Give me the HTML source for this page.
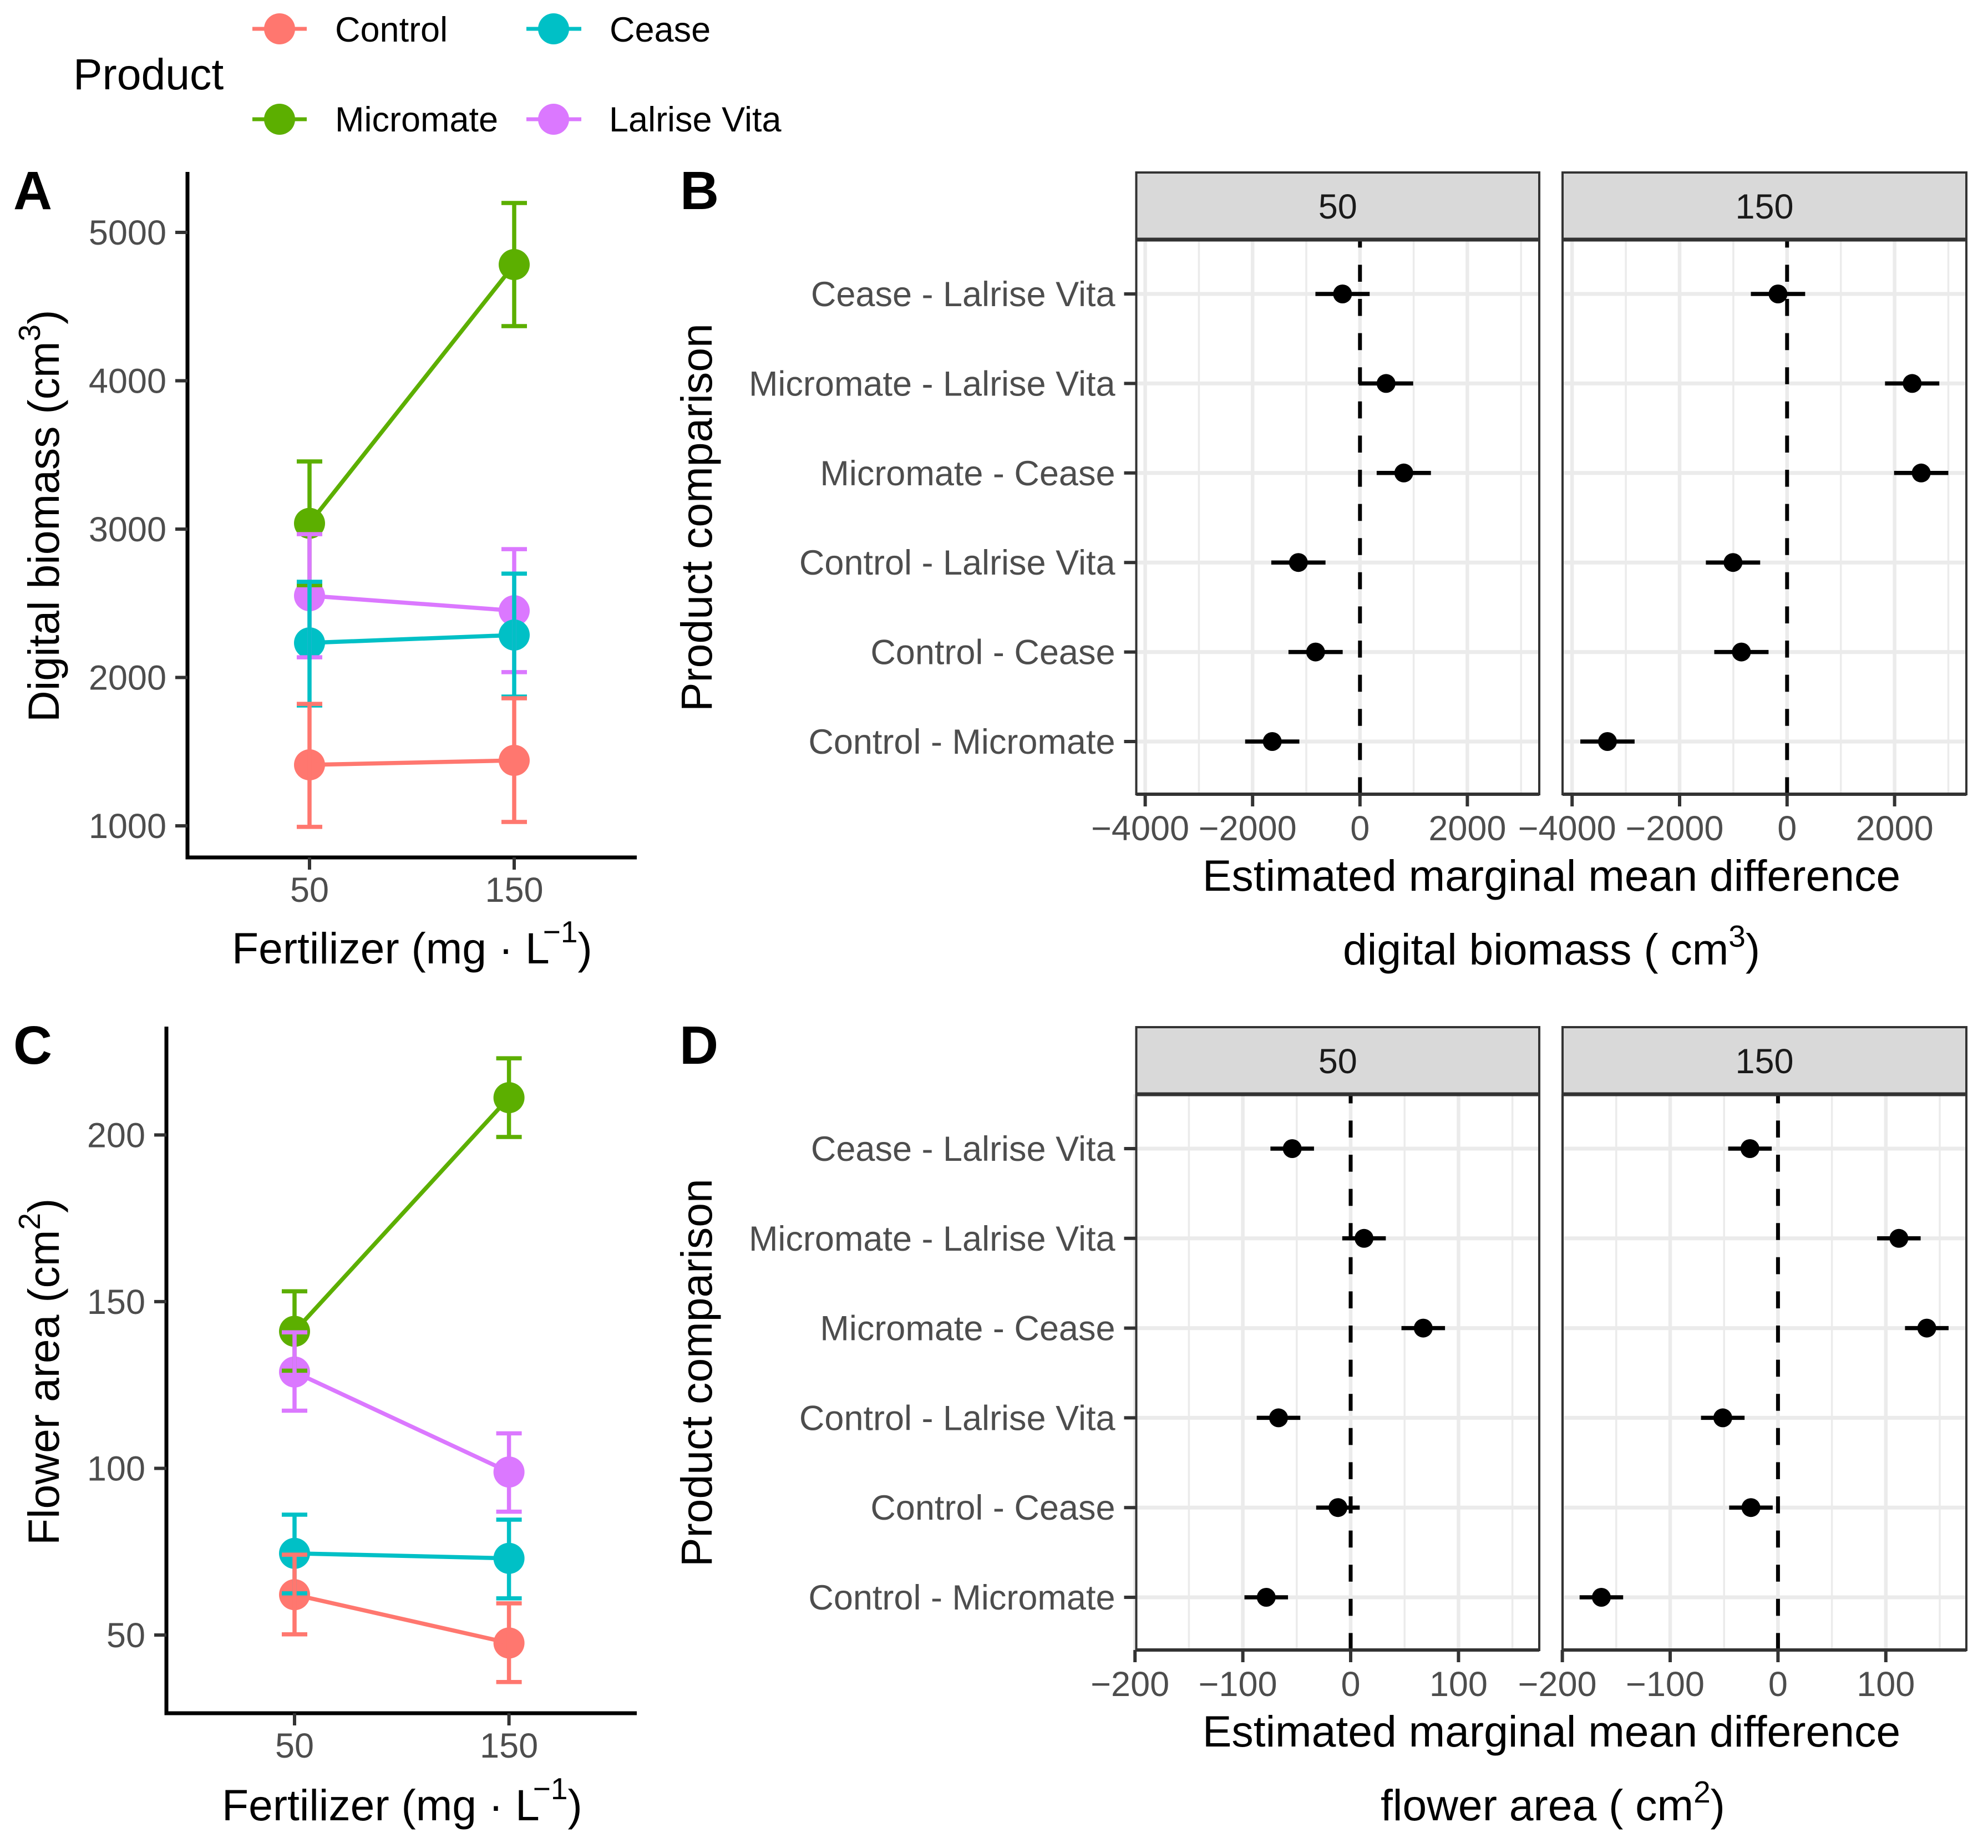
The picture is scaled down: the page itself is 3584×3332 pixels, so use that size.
<!DOCTYPE html>
<html lang="en">
<head>
<meta charset="utf-8">
<title>Digital biomass and flower area by product and fertilizer</title>
<style>
html,body{margin:0;padding:0;background:#fff;}
svg{display:block;font-family:"Liberation Sans",sans-serif;}
.title{font-size:78.7px;fill:#000;}
.lg{font-size:63px;fill:#000;}
.tag{font-size:97px;font-weight:bold;fill:#000;}
</style>
</head>
<body>
<svg id="figure" xmlns="http://www.w3.org/2000/svg" width="3584" height="3332" viewBox="0 0 3584 3332">
  <rect width="3584" height="3332" fill="#ffffff"/>

  <g>
    <text class="title" x="132" y="161">Product</text>
    <g>
      <line x1="455" x2="553" y1="52" y2="52" stroke="#FF776F" stroke-width="7"/>
      <circle cx="504" cy="52" r="28" fill="#FF776F"/>
      <text class="lg" x="604" y="75">Control</text>
    </g>
    <g>
      <line x1="949" x2="1048" y1="52" y2="52" stroke="#00C0C6" stroke-width="7"/>
      <circle cx="998" cy="52" r="28" fill="#00C0C6"/>
      <text class="lg" x="1099" y="75">Cease</text>
    </g>
    <g>
      <line x1="455" x2="553" y1="215" y2="215" stroke="#5CAF00" stroke-width="7"/>
      <circle cx="504" cy="215" r="28" fill="#5CAF00"/>
      <text class="lg" x="604" y="237">Micromate</text>
    </g>
    <g>
      <line x1="949" x2="1048" y1="215" y2="215" stroke="#DB78FF" stroke-width="7"/>
      <circle cx="998" cy="215" r="28" fill="#DB78FF"/>
      <text class="lg" x="1098" y="237">Lalrise Vita</text>
    </g>
  </g>

  <text class="tag" x="24" y="377">A</text>
  <text class="tag" x="1226" y="377">B</text>
  <text class="tag" x="24" y="1918">C</text>
  <text class="tag" x="1225" y="1918">D</text>

  <text class="title" transform="translate(106,1302) rotate(-90)">Digital biomass (cm<tspan dy="-34" font-size="55">3</tspan><tspan dy="34">)</tspan></text>
  <text class="title" transform="translate(106,2786) rotate(-90)">Flower area (cm<tspan dy="-34" font-size="55">2</tspan><tspan dy="34">)</tspan></text>
  <text class="title" x="418" y="1737">Fertilizer (mg · L<tspan dy="-38" dx="-12" font-size="55">−1</tspan><tspan dy="38">)</tspan></text>
  <text class="title" x="400" y="3282">Fertilizer (mg · L<tspan dy="-38" dx="-12" font-size="55">−1</tspan><tspan dy="38">)</tspan></text>

  <text class="title" transform="translate(1283,1283) rotate(-90)">Product comparison</text>
  <text class="title" transform="translate(1283,2825) rotate(-90)">Product comparison</text>

  <text class="title" x="2797" y="1606" text-anchor="middle">Estimated marginal mean difference</text>
  <text class="title" x="2421" y="1739">digital biomass ( cm<tspan dy="-32" font-size="55">3</tspan><tspan dy="32">)</tspan></text>
  <text class="title" x="2797" y="3149" text-anchor="middle">Estimated marginal mean difference</text>
  <text class="title" x="2489" y="3282">flower area ( cm<tspan dy="-32" font-size="55">2</tspan><tspan dy="32">)</tspan></text>

  <g id="charts"></g>
</svg>

<script>
// ---------- Panel data: interaction plots ----------
const doses = [50, 150];
const biomassTicks = [1000, 2000, 3000, 4000, 5000];
const flowerTicks = [50, 100, 150, 200];

const biomassMicromate = [3039, 4783];
const biomassMicromateLow = [2622, 4368];
const biomassMicromateHigh = [3456, 5198];
const biomassLalrise = [2551, 2450];
const biomassLalriseLow = [2136, 2036];
const biomassLalriseHigh = [2966, 2865];
const biomassCease = [2233, 2286];
const biomassCeaseLow = [1811, 1871];
const biomassCeaseHigh = [2645, 2700];
const biomassControl = [1411, 1441];
const biomassControlLow = [993, 1026];
const biomassControlHigh = [1822, 1860];

const flowerMicromate = [141.1, 211.2];
const flowerMicromateLow = [129.3, 199.4];
const flowerMicromateHigh = [153.1, 223];
const flowerLalrise = [128.9, 98.9];
const flowerLalriseLow = [117.3, 87];
const flowerLalriseHigh = [140.8, 110.5];
const flowerCease = [74.5, 73];
const flowerCeaseLow = [62.5, 61];
const flowerCeaseHigh = [86.1, 84.6];
const flowerControl = [62.1, 47.6];
const flowerControlLow = [50.2, 35.9];
const flowerControlHigh = [74.1, 59.5];

// ---------- Panel data: pairwise comparison plots ----------
const comparisons = ["Cease - Lalrise Vita", "Micromate - Lalrise Vita", "Micromate - Cease", "Control - Lalrise Vita", "Control - Cease", "Control - Micromate"];
const biomassDiffTicks = [-4000, -2000, 0, 2000];
const biomassDiffMinor = [-3000, -1000, 1000, 3000];
const flowerDiffTicks = [-200, -100, 0, 100];
const flowerDiffMinor = [-150, -50, 50, 150];

const biomassDiff50 = [-325, 486, 816, -1147, -827, -1634];
const biomassMargin50 = [505, 505, 505, 505, 505, 505];
const biomassDiff150 = [-169, 2327, 2495, -1006, -850, -3342];
const biomassMargin150 = [505, 505, 505, 505, 505, 505];
const flowerDiff50 = [-54.2, 12.4, 67.3, -66.9, -11.8, -78.3];
const flowerMargin50 = [20.2, 20.2, 20.2, 20.2, 20.2, 20.2];
const flowerDiff150 = [-26, 112.1, 138, -51.2, -25.1, -163.8];
const flowerMargin150 = [20.2, 20.2, 20.2, 20.2, 20.2, 20.2];

// ---------- Helpers ----------
const NS = "http://www.w3.org/2000/svg";
const root = document.getElementById("charts");

function linear(d0, r0, d1, r1) {
  return function (v) { return r0 + (v - d0) * (r1 - r0) / (d1 - d0); };
}
function make(parent, tag, props, text) {
  const node = document.createElementNS(NS, tag);
  for (const k in props) node.setAttribute(k, props[k]);
  if (text !== undefined) node.textContent = text;
  parent.appendChild(node);
  return node;
}
function fmt(v) { return v < 0 ? "\u2212" + Math.abs(v) : String(v); }
function slug(s) { return String(s).toLowerCase().replace(/[^a-z0-9]+/g, "-"); }

// ---------- Interaction plot ----------
function drawInteraction(cfg) {
  const g = make(root, "g", {});
  
  

  // Points, then lines, then error bars, each in the original layer order
  cfg.series.forEach(function (s) {
    s.mean.forEach(function (v, i) {
      const c = make(g, "circle", { cx: cfg.x(doses[i]), cy: cfg.y(v), r: 28, fill: s.color });
      
      
    });
  });
  cfg.series.forEach(function (s) {
    const pts = s.mean.map(function (v, i) { return cfg.x(doses[i]) + "," + cfg.y(v); }).join(" ");
    const l = make(g, "polyline", { points: pts, fill: "none", stroke: s.color, "stroke-width": 7.5 });
    
    
  });
  cfg.series.forEach(function (s) {
    s.mean.forEach(function (v, i) {
      const px = cfg.x(doses[i]);
      const hi = cfg.y(s.high[i]);
      const lo = cfg.y(s.low[i]);
      const d = "M" + (px - 23) + " " + hi + "H" + (px + 23) + "M" + px + " " + hi + "V" + lo + "M" + (px - 23) + " " + lo + "H" + (px + 23);
      const e = make(g, "path", { d: d, fill: "none", stroke: s.color, "stroke-width": 7.5 });
      
      
    });
  });

  // Axes
  const yAxis = make(g, "line", { x1: cfg.left, x2: cfg.left, y1: cfg.top, y2: cfg.bottom + 3.5, stroke: "#000", "stroke-width": 7 });
  
  
  const xAxis = make(g, "line", { x1: cfg.left - 3.5, x2: cfg.right, y1: cfg.bottom, y2: cfg.bottom, stroke: "#000", "stroke-width": 7 });
  
  

  cfg.yTicks.forEach(function (t) {
    const py = cfg.y(t);
    const tick = make(g, "line", { x1: cfg.left - 22, x2: cfg.left, y1: py, y2: py, stroke: "#333", "stroke-width": 6 });
    
    
    const lab = make(g, "text", { x: cfg.left - 38, y: py + 22, "text-anchor": "end", "font-size": 63, fill: "#4d4d4d" }, fmt(t));
    
    
  });
  doses.forEach(function (t) {
    const px = cfg.x(t);
    const tick = make(g, "line", { x1: px, x2: px, y1: cfg.bottom, y2: cfg.bottom + 22, stroke: "#333", "stroke-width": 6 });
    
    
    const lab = make(g, "text", { x: px, y: cfg.bottom + 80, "text-anchor": "middle", "font-size": 63, fill: "#4d4d4d" }, String(t));
    
    
  });
}

// ---------- Pairwise comparison facet ----------
function drawFacet(cfg) {
  const g = make(root, "g", {});
  
  

  const panel = make(g, "rect", { x: cfg.left, y: cfg.top, width: cfg.right - cfg.left, height: cfg.bottom - cfg.top, fill: "#fff" });
  
  

  cfg.minor.forEach(function (t) {
    const px = cfg.x(t);
    const grid = make(g, "line", { x1: px, x2: px, y1: cfg.top, y2: cfg.bottom, stroke: "#ebebeb", "stroke-width": 3.5 });
    
    
  });
  cfg.ticks.forEach(function (t) {
    const px = cfg.x(t);
    const grid = make(g, "line", { x1: px, x2: px, y1: cfg.top, y2: cfg.bottom, stroke: "#ebebeb", "stroke-width": 6.5 });
    
    
  });
  comparisons.forEach(function (name, i) {
    const py = cfg.y(i);
    const grid = make(g, "line", { x1: cfg.left, x2: cfg.right, y1: py, y2: py, stroke: "#ebebeb", "stroke-width": 7 });
    
    
  });

  const zero = make(g, "line", { x1: cfg.x(0), x2: cfg.x(0), y1: cfg.bottom, y2: cfg.top, stroke: "#000", "stroke-width": 7, "stroke-dasharray": "30.6 31" });
  
  

  comparisons.forEach(function (name, i) {
    const py = cfg.y(i);
    const seg = make(g, "line", { x1: cfg.x(cfg.values[i] - cfg.margins[i]), x2: cfg.x(cfg.values[i] + cfg.margins[i]), y1: py, y2: py, stroke: "#000", "stroke-width": 7.5 });
    
    
    const dot = make(g, "circle", { cx: cfg.x(cfg.values[i]), cy: py, r: 17, fill: "#000" });
    
    
  });

  const border = make(g, "rect", { x: cfg.left, y: cfg.top, width: cfg.right - cfg.left, height: cfg.bottom - cfg.top, fill: "none", stroke: "#333", "stroke-width": 4 });
  
  
  const base = make(g, "line", { x1: cfg.left, x2: cfg.right, y1: cfg.bottom, y2: cfg.bottom, stroke: "#333", "stroke-width": 6 });
  
  

  const strip = make(g, "rect", { x: cfg.left, y: cfg.top - 121, width: cfg.right - cfg.left, height: 121, fill: "#d9d9d9", stroke: "#333", "stroke-width": 4 });
  
  
  const stripEdge = make(g, "line", { x1: cfg.left, x2: cfg.right, y1: cfg.top, y2: cfg.top, stroke: "#333", "stroke-width": 7 });
  
  
  const stripText = make(g, "text", { x: (cfg.left + cfg.right) / 2, y: cfg.top - 38, "text-anchor": "middle", "font-size": 63, fill: "#1a1a1a" }, cfg.label);
  
  

  cfg.ticks.forEach(function (t) {
    const px = cfg.x(t);
    const tick = make(g, "line", { x1: px, x2: px, y1: cfg.bottom, y2: cfg.bottom + 22, stroke: "#333", "stroke-width": 6 });
    
    
    const lab = make(g, "text", { x: t < 0 ? px - 9 : px, y: cfg.bottom + 83, "text-anchor": "middle", "font-size": 63, fill: "#4d4d4d" }, fmt(t));
    
    
  });

  if (cfg.showRows) {
    comparisons.forEach(function (name, i) {
      const py = cfg.y(i);
      const tick = make(g, "line", { x1: cfg.left - 22, x2: cfg.left, y1: py, y2: py, stroke: "#333", "stroke-width": 6 });
      
      
      const lab = make(g, "text", { x: cfg.left - 38, y: py + 22, "text-anchor": "end", "font-size": 63, fill: "#4d4d4d" }, name);
      
      
    });
  }
}

// ---------- Panels ----------
const colors = { micromate: "#5CAF00", lalrise: "#DB78FF", cease: "#00C0C6", control: "#FF776F" };

drawInteraction({
  id: "panel-a", left: 338, right: 1148, top: 310, bottom: 1546,
  x: linear(50, 558, 150, 927), y: linear(1000, 1489, 5000, 419), yTicks: biomassTicks,
  series: [
    { key: "micromate", color: colors.micromate, mean: biomassMicromate, low: biomassMicromateLow, high: biomassMicromateHigh },
    { key: "lalrise-vita", color: colors.lalrise, mean: biomassLalrise, low: biomassLalriseLow, high: biomassLalriseHigh },
    { key: "cease", color: colors.cease, mean: biomassCease, low: biomassCeaseLow, high: biomassCeaseHigh },
    { key: "control", color: colors.control, mean: biomassControl, low: biomassControlLow, high: biomassControlHigh }
  ]
});
drawInteraction({
  id: "panel-c", left: 300, right: 1148, top: 1851, bottom: 3089,
  x: linear(50, 531, 150, 917.6), y: linear(50, 2948, 200, 2046.4), yTicks: flowerTicks,
  series: [
    { key: "micromate", color: colors.micromate, mean: flowerMicromate, low: flowerMicromateLow, high: flowerMicromateHigh },
    { key: "lalrise-vita", color: colors.lalrise, mean: flowerLalrise, low: flowerLalriseLow, high: flowerLalriseHigh },
    { key: "cease", color: colors.cease, mean: flowerCease, low: flowerCeaseLow, high: flowerCeaseHigh },
    { key: "control", color: colors.control, mean: flowerControl, low: flowerControlLow, high: flowerControlHigh }
  ]
});

const rowsB = linear(0, 530, 5, 1337);
const rowsD = linear(0, 2071, 5, 2880);
drawFacet({ id: "panel-b", label: "50", showRows: true, left: 2048.5, right: 2775, top: 432, bottom: 1432,
  x: linear(0, 2451.8, 2000, 2645.4), y: rowsB, ticks: biomassDiffTicks, minor: biomassDiffMinor, values: biomassDiff50, margins: biomassMargin50 });
drawFacet({ id: "panel-b", label: "150", showRows: false, left: 2817, right: 3545, top: 432, bottom: 1432,
  x: linear(0, 3221.8, 2000, 3415.6), y: rowsB, ticks: biomassDiffTicks, minor: biomassDiffMinor, values: biomassDiff150, margins: biomassMargin150 });
drawFacet({ id: "panel-d", label: "50", showRows: true, left: 2048.5, right: 2775, top: 1973, bottom: 2975,
  x: linear(0, 2435, 100, 2629.4), y: rowsD, ticks: flowerDiffTicks, minor: flowerDiffMinor, values: flowerDiff50, margins: flowerMargin50 });
drawFacet({ id: "panel-d", label: "150", showRows: false, left: 2817, right: 3545, top: 1973, bottom: 2975,
  x: linear(0, 3205.4, 100, 3399.8), y: rowsD, ticks: flowerDiffTicks, minor: flowerDiffMinor, values: flowerDiff150, margins: flowerMargin150 });
</script>
</body>
</html>
